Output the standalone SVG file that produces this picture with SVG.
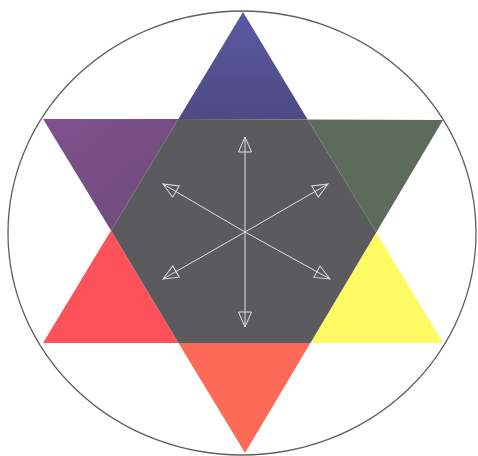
<svg xmlns="http://www.w3.org/2000/svg" width="478" height="456" viewBox="0 0 478 456">
  <style>
    .arrow { stroke: #e4dce0; stroke-width: 1; fill: none; }
  </style>
  <defs>
    <linearGradient id="gBlue" x1="0" y1="0" x2="0" y2="1">
      <stop offset="0" stop-color="#5a58a2"/>
      <stop offset="1" stop-color="#4f4a84"/>
    </linearGradient>
    <linearGradient id="gPurple" x1="0" y1="0" x2="1" y2="1">
      <stop offset="0" stop-color="#80528f"/>
      <stop offset="1" stop-color="#6c4a76"/>
    </linearGradient>
    <marker id="head" viewBox="-16 -8 18 16" refX="0" refY="0" markerWidth="18" markerHeight="16" markerUnits="userSpaceOnUse" orient="auto">
      <path d="M0,0 L-15,-6.5 L-15,6.5 Z" fill="none" stroke="#e4dce0" stroke-width="1"/>
    </marker>
  </defs>
  <rect width="478" height="456" fill="#ffffff"/>
  <g id="circle">
    <ellipse cx="242" cy="233" rx="234" ry="222" fill="#ffffff" stroke="#5e5e5e" stroke-width="1.3"/>
  </g>
  <g id="star">
    <polygon id="blue" points="243,12 307.6,119.5 178.4,119" fill="url(#gBlue)"/>
    <polygon id="purple" points="43,119 178.4,119 111,230.4" fill="url(#gPurple)"/>
    <polygon id="green" points="307.6,119.5 443,120 376.2,232.4" fill="#5d6b5d"/>
    <polygon id="red" points="111,230.4 178.5,343 43,343" fill="#fd525b"/>
    <polygon id="yellow" points="376.2,232.4 443,343 310.4,343" fill="#fefb62"/>
    <polygon id="orange" points="178.5,343 310.4,343 245,453" fill="#fd6a58"/>
    <polygon id="center" points="178.4,119 307.6,119.5 376.2,232.4 310.4,343 178.5,343 111,230.4" fill="#5b5a5c"/>
  </g>
  <g id="connectors" class="arrow">
    <line x1="245" y1="232" x2="245" y2="137" marker-end="url(#head)"/>
    <line x1="245" y1="232" x2="245" y2="327" marker-end="url(#head)"/>
    <line x1="245" y1="232" x2="163" y2="184" marker-end="url(#head)"/>
    <line x1="245" y1="232" x2="328" y2="184" marker-end="url(#head)"/>
    <line x1="245" y1="232" x2="163" y2="279" marker-end="url(#head)"/>
    <line x1="245" y1="232" x2="330" y2="279" marker-end="url(#head)"/>
  </g>
</svg>
